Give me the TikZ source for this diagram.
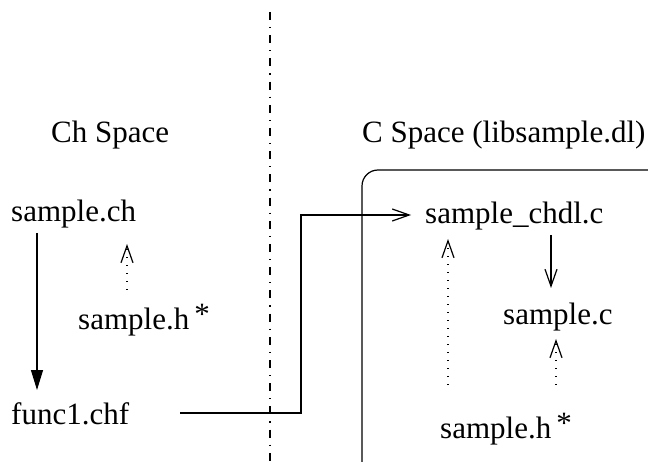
\documentclass[tikz,border=0pt]{standalone}
\usepackage{fontspec}
\setmainfont{Liberation Serif}
\usetikzlibrary{arrows.meta}
\begin{document}
\begin{tikzpicture}[x=1pt,y=-1pt,
  lbl/.style={anchor=base west,inner sep=0pt,font=\fontsize{31}{36}\selectfont},
  conn/.style={line width=1.2pt},
  openhead/.style={-{Straight Barb[length=17pt,width=12pt,line width=1.2pt]}},
  dotconn/.style={line width=1.2pt,dash pattern=on 1.2pt off 6.8pt},
  divider/.style={line width=1.2pt,dash pattern=on 8pt off 7pt on 1.2pt off 7pt}]
\useasboundingbox (0,0) rectangle (648,462);
\clip (0,0) rectangle (648,462);
% divider
\draw[divider] (270,12) -- (270,470);
% rounded box (clipped at right and bottom)
\draw[conn,rounded corners=16pt] (362,500) -- (362,170) -- (680,170);
% titles
\node[lbl] (chspace) at (51,143) {Ch Space};
\node[lbl] (cspace) at (362,143) {C Space (libsample.dl)};
% nodes
\node[lbl] (samplech) at (11,222) {sample.ch};
\node[lbl] (sampleh1) at (78,330) {sample.h\,\raisebox{5pt}{*}};
\node[lbl] (func) at (11,424) {func1.chf};
\node[lbl] (chdl) at (425,224) {sample\_chdl.c};
\node[lbl] (samplec) at (503,325) {sample.c};
\node[lbl] (sampleh2) at (440,438) {sample.h\,\raisebox{5pt}{*}};
% coordinates for connector ends
\coordinate (a1) at (37,233);
\coordinate (a2) at (37,390);
\coordinate (b1) at (127,290);
\coordinate (b2) at (127,244);
\coordinate (c1) at (180,413);
\coordinate (c2) at (301,413);
\coordinate (c3) at (301,215);
\coordinate (c4) at (411,215);
\coordinate (d1) at (551,235);
\coordinate (d2) at (551,288);
\coordinate (e1) at (448,385);
\coordinate (e2) at (448,239);
\coordinate (f1) at (556,385);
\coordinate (f2) at (556,339);
% connectors
\draw[conn,-{Triangle[length=20pt,width=12pt]}] (a1) -- (a2);
\draw[dotconn,openhead] (b1) -- (b2);
\draw[conn,openhead] (c1) -- (c2) -- (c3) -- (c4);
\draw[conn,openhead] (d1) -- (d2);
\draw[dotconn,openhead] (e1) -- (e2);
\draw[dotconn,openhead] (f1) -- (f2);
\end{tikzpicture}
\end{document}
